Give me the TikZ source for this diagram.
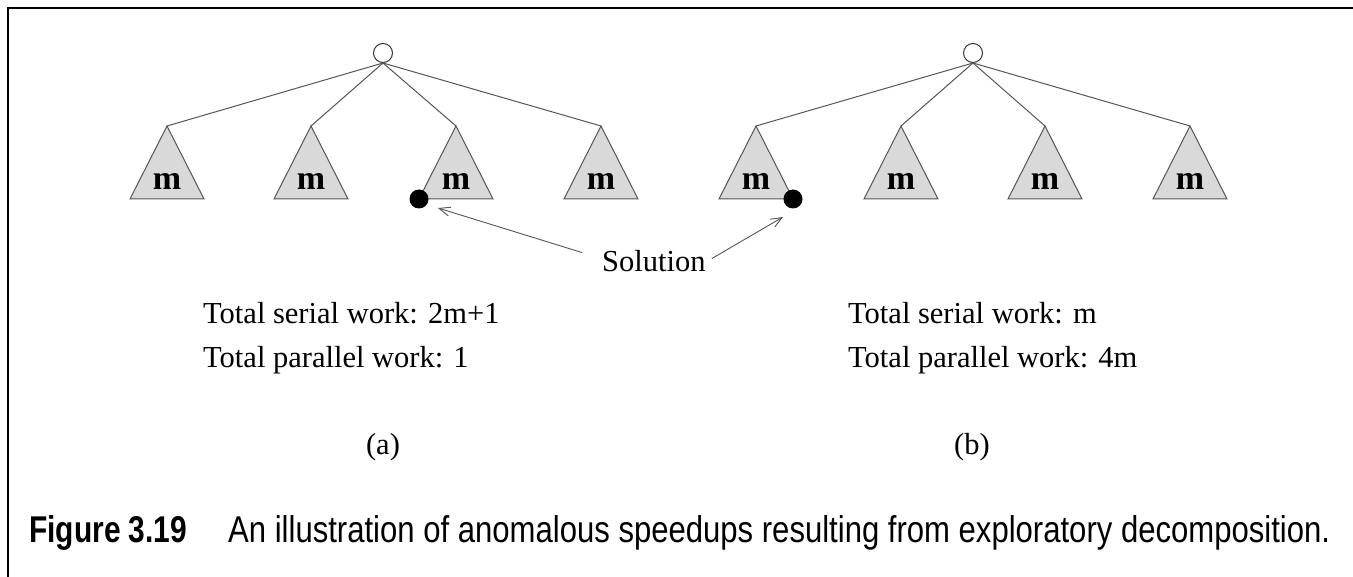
\documentclass[tikz,border=0pt]{standalone}
\usepackage{graphicx}
\usepackage{fontspec}
\setmainfont{Liberation Serif}
\newfontfamily\capfont{Liberation Sans}
\usetikzlibrary{arrows.meta}

\definecolor{subtree}{RGB}{217,217,217}
\definecolor{linegray}{RGB}{85,85,85}

\tikzset{
  txt/.style={font=\fontsize{30.5}{36}\selectfont, inner sep=0pt, anchor=base west},
  mlab/.style={font=\fontsize{34}{40}\selectfont\bfseries, inner sep=0pt, anchor=base},
  tri/.style={draw=linegray, fill=subtree, line width=1pt, line join=miter},
  edge/.style={draw=linegray, line width=1pt},
  rootnode/.style={circle, draw=black!80, fill=white, line width=1pt, minimum size=19pt, inner sep=0pt},
  soldot/.style={circle, fill=black, minimum size=19pt, inner sep=0pt},
  pointer/.style={draw=linegray, line width=0.9pt, -{Straight Barb[length=11pt,width=9pt,line width=0.9pt]}},
  caption/.style={inner sep=0pt, anchor=base west}
}

\begin{document}
\begin{tikzpicture}[x=1pt,y=-1pt]
  \useasboundingbox (0,0) rectangle (1353,577);

  % frame: top rule and left rule
  \draw[line width=2.5pt, line join=miter] (8,577) -- (8,8) -- (1353,8);

  % subtrees of size m
  \foreach \n/\x in {a1/167,a2/311,a3/456,a4/601,b1/756,b2/901,b3/1045,b4/1190} {
    \draw[tri] (\x,126) -- (\x+37,199) -- (\x-37,199) -- cycle;
    \coordinate (\n) at (\x,126);
    \node[mlab] (m\n) at (\x,190) {m};
  }

  % roots
  \node[rootnode] (ra) at (383,53) {};
  \node[rootnode] (rb) at (973,53) {};

  \foreach \c in {a1,a2,a3,a4} \draw[edge] (ra.south) -- (\c);
  \foreach \c in {b1,b2,b3,b4} \draw[edge] (rb.south) -- (\c);

  % solution leaves
  \node[soldot] (sa) at (419,199) {};
  \node[soldot] (sb) at (793,199) {};

  % solution label and pointers
  \node[txt] (sol) at (602,272) {Solution};
  \draw[pointer] ([shift={(-20,-9)}]sol.west) -- ([shift={(19,9)}]sa.center);
  \draw[pointer] ([shift={(6,-3)}]sol.east) -- ([shift={(-10,18)}]sb.center);

  % work totals
  \node[txt] (sera) at (203,324) {Total serial work: 2m+1};
  \node[txt] (para) at (203,368) {Total parallel work: 1};
  \node[txt] (serb) at (848,324) {Total serial work: m};
  \node[txt] (parb) at (848,368) {Total parallel work: 4m};

  % sub-figure labels
  \node[txt, anchor=base] (laba) at (383,454) {(a)};
  \node[txt, anchor=base] (labb) at (972,454) {(b)};

  % caption
  \node[caption] (fignum) at (29,542) {\resizebox{158pt}{27pt}{\capfont\bfseries Figure 3.19}};
  \node[caption] (figtext) at (228,542) {\resizebox{1102pt}{27pt}{\capfont An illustration of anomalous speedups resulting from exploratory decomposition.}};
\end{tikzpicture}
\end{document}
